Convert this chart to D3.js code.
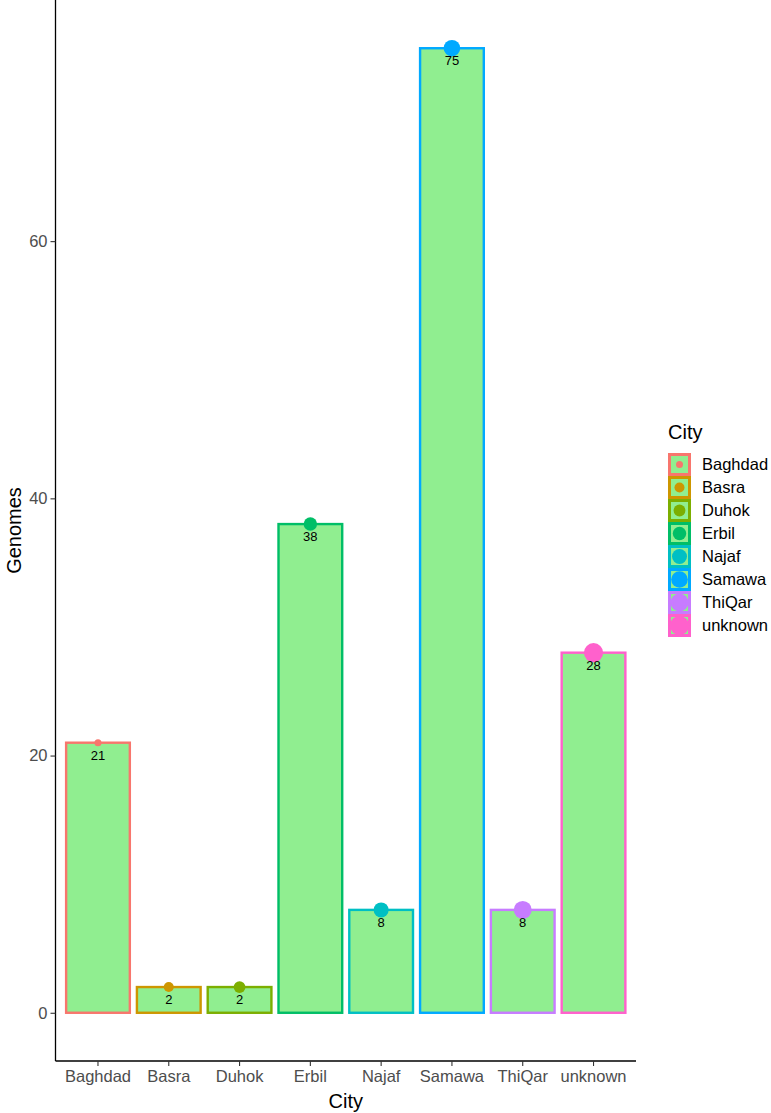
<!DOCTYPE html>
<html>
<head>
<meta charset="utf-8">
<script src="https://cdn.jsdelivr.net/npm/d3@7"></script>
<style>
  body { margin: 0; background: #fff; }
  svg text { font-family: "Liberation Sans", Arial, sans-serif; }
</style>
</head>
<body>
<div id="dataviz"></div>
<script>
// data
var cities = ['Baghdad', 'Basra', 'Duhok', 'Erbil', 'Najaf', 'Samawa', 'ThiQar', 'unknown'];
var genomes = [21, 2, 2, 38, 8, 75, 8, 28];
var cityColors = ['#F8766D', '#CD9600', '#7CAE00', '#00BE67', '#00BFC4', '#00A9FF', '#C77CFF', '#FF61CC'];
// point radius per city (size mapped to City)
var pointRadius = [3.5, 5, 5.9, 6.7, 7.5, 8.3, 9.0, 9.6];
var yTicks = [0, 20, 40, 60];

function plotChart() {
    var W = 771, H = 1113;
    var panel = {left: 55.5, right: 636, top: 0, bottom: 1061};

    var svg = d3.select("#dataviz")
      .append("svg")
      .attr("width", W)
      .attr("height", H);

    var data = cities.map(function(c, i) {
        return {city: c, value: genomes[i], color: cityColors[i], r: pointRadius[i]};
    });

    // x: discrete scale with ggplot's 0.6 expansion, bar width 0.9
    var x = d3.scaleBand()
      .domain(cities)
      .range([panel.left, panel.right])
      .paddingInner(0.1)
      .paddingOuter(0.15);

    // y: 5% expansion on both ends
    var y = d3.scaleLinear()
      .domain([-3.75, 78.75])
      .range([panel.bottom, panel.top]);

    // bars
    svg.append("g")
      .selectAll("rect")
      .data(data)
      .enter()
      .append("rect")
      .attr("x", function(d) { return x(d.city); })
      .attr("y", function(d) { return y(d.value); })
      .attr("width", x.bandwidth())
      .attr("height", function(d) { return y(0) - y(d.value); })
      .attr("fill", "#90EE90")
      .attr("stroke", function(d) { return d.color; })
      .attr("stroke-width", 2.4);

    // points on top of bars
    svg.append("g")
      .selectAll("circle")
      .data(data)
      .enter()
      .append("circle")
      .attr("cx", function(d) { return x(d.city) + x.bandwidth() / 2; })
      .attr("cy", function(d) { return y(d.value); })
      .attr("r", function(d) { return d.r; })
      .attr("fill", function(d) { return d.color; });

    // value labels
    svg.append("g")
      .selectAll("text")
      .data(data)
      .enter()
      .append("text")
      .attr("x", function(d) { return x(d.city) + x.bandwidth() / 2; })
      .attr("y", function(d) { return y(d.value) + 17; })
      .attr("text-anchor", "middle")
      .style("font-size", "13px")
      .attr("fill", "#000")
      .text(function(d) { return d.value; });

    // Y axis
    var yAxis = svg.append("g")
      .attr("transform", "translate(" + panel.left + ",0)")
      .call(d3.axisLeft(y).tickValues(yTicks).tickSize(5).tickPadding(3));
    // X axis
    var xAxis = svg.append("g")
      .attr("transform", "translate(0," + panel.bottom + ")")
      .call(d3.axisBottom(x).tickSize(5).tickPadding(4));

    [yAxis, xAxis].forEach(function(ax) {
        ax.select(".domain").attr("stroke", "#000").attr("stroke-width", 1.3);
        ax.selectAll(".tick line").attr("stroke", "#333").attr("stroke-width", 1.1);
        ax.selectAll(".tick text")
          .attr("fill", "#4D4D4D")
          .style("font-size", "16.5px");
    });
    // extend axis lines to meet at the corner like ggplot
    yAxis.select(".domain").attr("d", "M0," + panel.top + "V" + panel.bottom);
    xAxis.select(".domain").attr("d", "M" + panel.left + ",0H" + panel.right);

    // axis titles
    svg.append("text")
      .attr("x", (panel.left + panel.right) / 2)
      .attr("y", 1108)
      .attr("text-anchor", "middle")
      .style("font-size", "20px")
      .text("City");
    svg.append("text")
      .attr("transform", "translate(21," + (panel.top + panel.bottom) / 2 + ") rotate(-90)")
      .attr("text-anchor", "middle")
      .style("font-size", "20px")
      .text("Genomes");

    // legend
    var legend = svg.append("g").attr("transform", "translate(668,0)");
    legend.append("text")
      .attr("x", 0)
      .attr("y", 439)
      .style("font-size", "20px")
      .text("City");

    var key = 23, keyTop = 453;
    var item = legend.selectAll(".key")
      .data(data)
      .enter()
      .append("g")
      .attr("class", "key")
      .attr("transform", function(d, i) { return "translate(0," + (keyTop + i * key) + ")"; });
    item.append("rect")
      .attr("x", 1.5)
      .attr("y", 1.5)
      .attr("width", key - 3)
      .attr("height", key - 3)
      .attr("fill", "#90EE90")
      .attr("stroke", function(d) { return d.color; })
      .attr("stroke-width", 3);
    item.append("circle")
      .attr("cx", key / 2)
      .attr("cy", key / 2)
      .attr("r", function(d) { return d.r; })
      .attr("fill", function(d) { return d.color; });
    item.append("text")
      .attr("x", 34)
      .attr("y", key / 2)
      .attr("dy", "0.36em")
      .style("font-size", "16.5px")
      .text(function(d) { return d.city; });
}

plotChart();
</script>
</body>
</html>
